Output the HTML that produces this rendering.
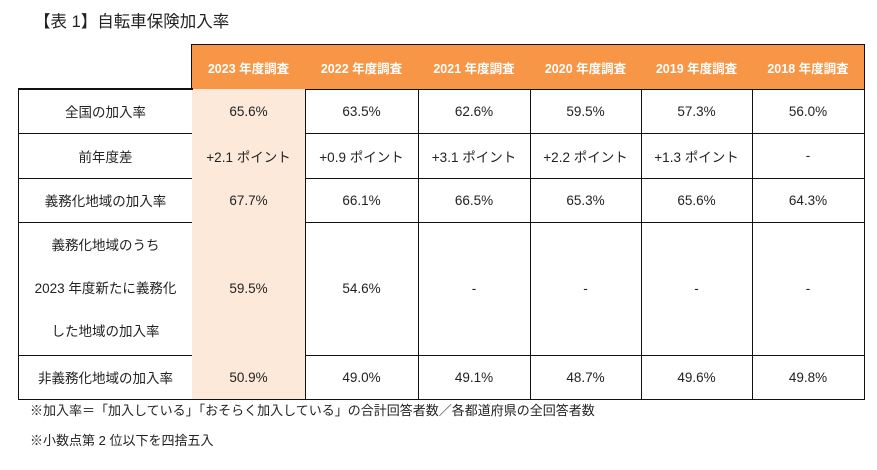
<!DOCTYPE html>
<html><head><meta charset="utf-8"><style>
body{margin:0;width:877px;height:470px;background:#fff;font-family:"Liberation Sans","Noto Sans CJK JP",sans-serif;color:#222;position:relative;overflow:hidden}
.c{position:absolute;box-sizing:border-box;display:flex;flex-direction:column;align-items:center;justify-content:center;text-align:center;font-size:13.5px;border-right:1.5px solid #111;border-bottom:1.5px solid #111}
.h{background:#f79646;color:#fff;font-weight:bold;font-size:12.5px;border-top:1.5px solid #111}
.hl{background:#fde9d9}
.first{border-left:1.5px solid #111}
.t{position:absolute;left:34px;top:8px;font-size:16.5px}
.n{position:absolute;left:30px;font-size:13px}
.ln{line-height:43px}
</style></head><body>
<div class="t">【表 1】自転車保険加入率</div>
<div id="tbl"></div>
<div class="n" style="top:400px">※加入率＝「加入している」「おそらく加入している」の合計回答者数／各都道府県の全回答者数</div>
<div class="n" style="top:430px">※小数点第 2 位以下を四捨五入</div>
<script>
const headers=["2023 年度調査","2022 年度調査","2021 年度調査","2020 年度調査","2019 年度調査","2018 年度調査"];
const rowLabels=["全国の加入率","前年度差","義務化地域の加入率",'<div class="ln">義務化地域のうち</div><div class="ln">2023 年度新たに義務化</div><div class="ln">した地域の加入率</div>',"非義務化地域の加入率"];
const rows=[
["65.6%","63.5%","62.6%","59.5%","57.3%","56.0%"],
["+2.1 ポイント","+0.9 ポイント","+3.1 ポイント","+2.2 ポイント","+1.3 ポイント","-"],
["67.7%","66.1%","66.5%","65.3%","65.6%","64.3%"],
["59.5%","54.6%","-","-","-","-"],
["50.9%","49.0%","49.1%","48.7%","49.6%","49.8%"]];
const xs=[18,192,305,418,530,641,752,864];
const ys=[44,89,133,178,222,355,399];
const tbl=document.getElementById('tbl');
function cell(x0,x1,y0,y1,html,cls,name){
 const d=document.createElement('div');
 d.className='c '+cls;
 d.style.left=x0+'px';d.style.top=y0+'px';d.style.width=(x1-x0+1)+'px';d.style.height=(y1-y0+1)+'px';
 d.innerHTML=html;
 
 
 tbl.appendChild(d);
}
headers.forEach((h,i)=>cell(xs[i+1]-(i==0?1:0),xs[i+2],ys[0],ys[1],h,'h'+(i==0?' first':''),'header-cell'));
rowLabels.forEach((l,r)=>{
 cell(xs[0],xs[1],ys[r+1],ys[r+2],l,'first','row-label');
 rows[r].forEach((v,i)=>cell(xs[i+1],xs[i+2],ys[r+1],ys[r+2],v,i==0?'hl':'','value-cell'));
});
const tb=document.createElement('div');


tb.style.cssText='position:absolute;left:18px;top:88px;width:175px;height:1.5px;background:#111';
tbl.appendChild(tb);
</script>
</body></html>
